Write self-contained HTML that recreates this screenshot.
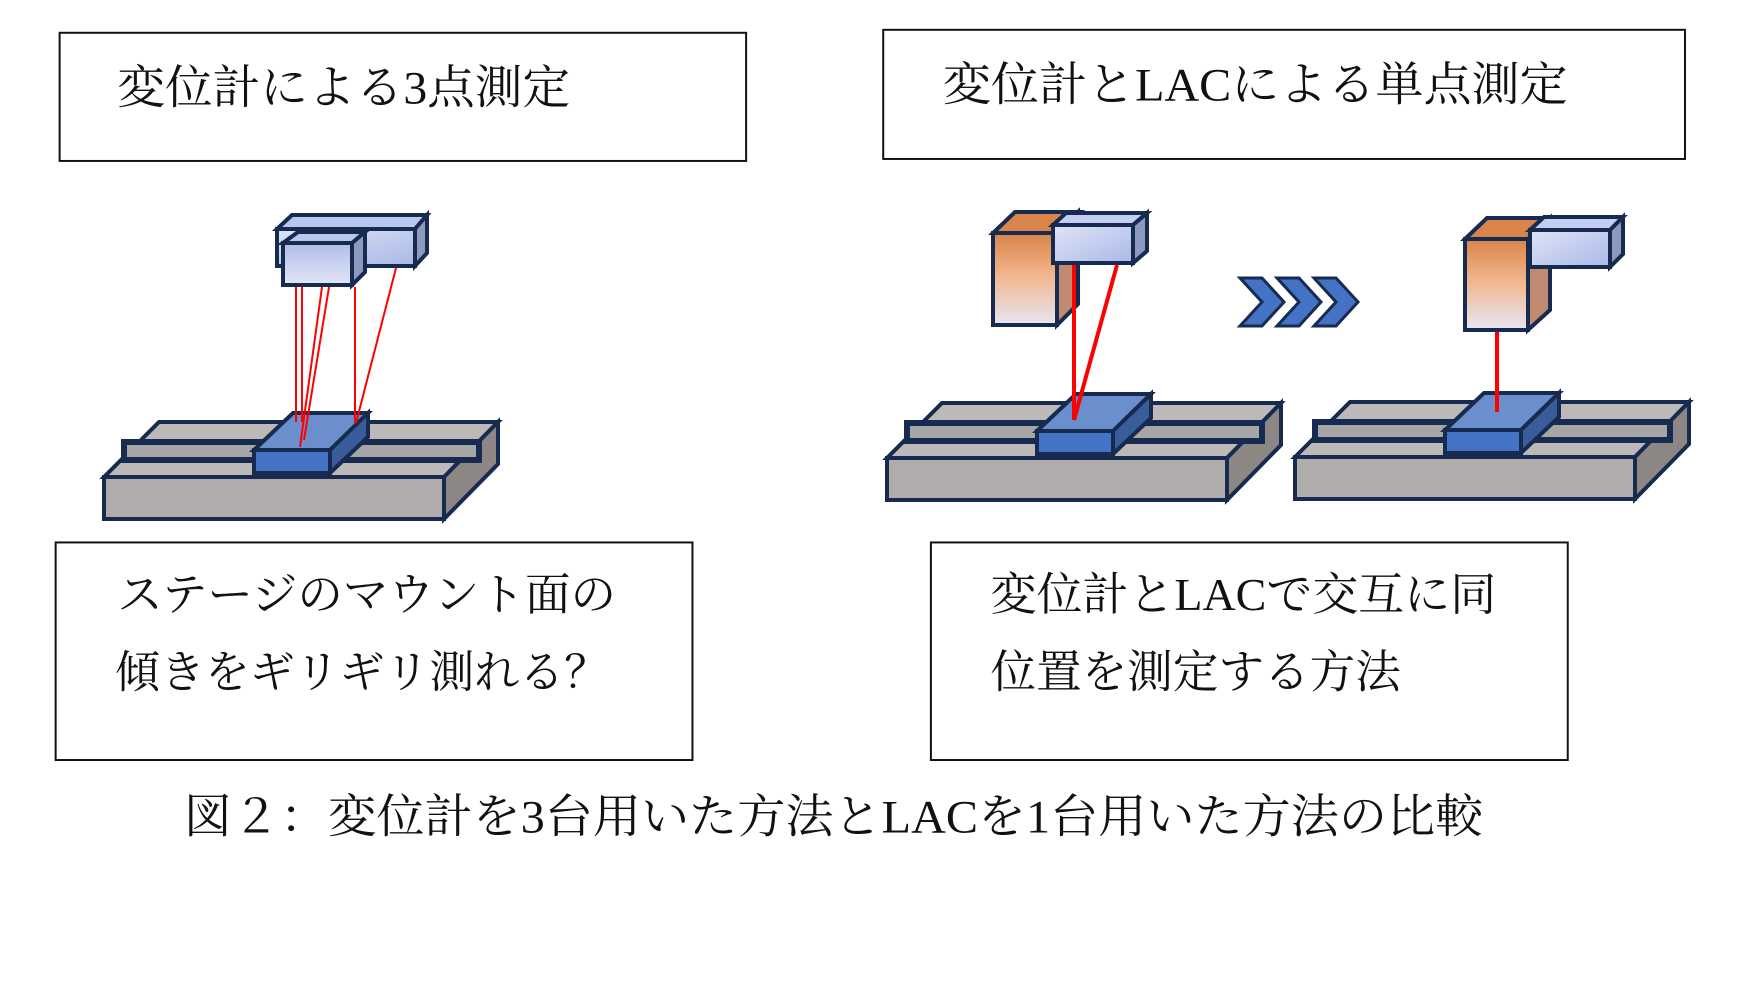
<!DOCTYPE html>
<html><head><meta charset="utf-8">
<style>
html,body{margin:0;padding:0;background:#fff;}
svg{display:block;}
text{font-family:"Liberation Serif","Noto Serif CJK SC",serif;fill:#111;}
</style></head>
<body>
<svg width="1753" height="999" viewBox="0 0 1753 999" xmlns="http://www.w3.org/2000/svg">
<defs>
<linearGradient id="sens" x1="0" y1="0" x2="1" y2="1">
<stop offset="0" stop-color="#dfe4f6"/><stop offset="1" stop-color="#a9b9e8"/></linearGradient>
<linearGradient id="sensV" x1="0" y1="0" x2="0" y2="1">
<stop offset="0" stop-color="#aebde9"/><stop offset="1" stop-color="#e2e6f6"/></linearGradient>
<linearGradient id="orng" x1="0" y1="0" x2="0" y2="1">
<stop offset="0" stop-color="#d8844a"/><stop offset="0.45" stop-color="#f2b48a"/><stop offset="1" stop-color="#e6e6f3"/></linearGradient>
<g id="stage" stroke="#172b50" stroke-width="4" stroke-linejoin="miter">
<polygon points="0,0 55,-55 394,-55 340,0" fill="#bdb9b8"/>
<polygon points="340,0 394,-55 394,-13 340,42" fill="#8c8785"/>
<rect x="0" y="0" width="340" height="42" fill="#afacab"/>
<rect x="20" y="-35" width="355" height="18" fill="#a6a6a6" stroke-width="6"/>
<polygon points="150,-27 189,-64 264,-64 226,-27" fill="#6a8fcc"/>
<polygon points="226,-27 264,-64 264,-40 226,-4" fill="#385d9a"/>
<rect x="150" y="-27" width="76" height="23" fill="#4472c4"/>
</g>
</defs>
<g transform="scale(0.9935)">
<g fill="none" stroke="#111" stroke-width="2">
<rect x="60" y="33" width="691" height="129"/>
<rect x="889" y="30" width="807" height="130"/>
<rect x="56" y="546" width="641" height="219"/>
<rect x="937" y="546" width="641" height="219"/>
</g>
<text x="118" y="104" font-size="47" textLength="456" lengthAdjust="spacingAndGlyphs">変位計による3点測定</text>
<text x="949" y="101" font-size="47" textLength="629" lengthAdjust="spacingAndGlyphs">変位計とLACによる単点測定</text>
<text x="118" y="614" font-size="45" textLength="502" lengthAdjust="spacingAndGlyphs">ステージのマウント面の</text>
<text x="116" y="692" font-size="45" textLength="497" lengthAdjust="spacingAndGlyphs">傾きをギリギリ測れる？</text>
<text x="997" y="614" font-size="46" textLength="509" lengthAdjust="spacingAndGlyphs">変位計とLACで交互に同</text>
<text x="997" y="692" font-size="46" textLength="413" lengthAdjust="spacingAndGlyphs">位置を測定する方法</text>
<text x="185" y="838" font-size="47" textLength="1308" lengthAdjust="spacingAndGlyphs">図２：変位計を3台用いた方法とLACを1台用いた方法の比較</text>
</g>

<!-- left stage -->
<use href="#stage" transform="translate(104,477)"/>
<g stroke="#172b50" stroke-width="4">
<polygon points="277,229 292,215 427,215 415,229" fill="#b9c6ee"/>
<polygon points="415,229 427,215 427,253 415,266" fill="#8d9ac0"/>
<rect x="277" y="229" width="138" height="37" fill="url(#sens)"/>
<polygon points="283,243 298,232 365,232 352,243" fill="#b9c6ee"/>
<polygon points="352,243 365,232 365,272 352,285" fill="#8d9ac0"/>
<rect x="283" y="243" width="69" height="42" fill="url(#sensV)"/>
</g>
<g stroke="#ff0000" stroke-width="2">
<line x1="296" y1="287" x2="296" y2="422"/>
<line x1="302" y1="287" x2="302" y2="422"/>
<line x1="322" y1="287" x2="300" y2="447"/>
<line x1="329" y1="287" x2="304" y2="440"/>
<line x1="355" y1="287" x2="355" y2="423"/>
<line x1="396" y1="268" x2="356" y2="423"/>
</g>

<!-- middle stage -->
<use href="#stage" transform="translate(887,458)"/>
<g stroke="#172b50" stroke-width="4">
<polygon points="993,233 1015,212 1080,212 1057,233" fill="#d8844a"/>
<polygon points="1057,233 1078,212 1078,304 1057,325" fill="#bf8a70"/>
<rect x="993" y="233" width="64" height="92" fill="url(#orng)"/>
<polygon points="1053,225 1066,213 1147,213 1133,225" fill="#c3cef2"/>
<polygon points="1133,225 1147,213 1147,251 1133,263" fill="#8d9ac0"/>
<rect x="1053" y="225" width="80" height="38" fill="url(#sens)"/>
</g>
<g stroke="#ff0000" stroke-width="4">
<line x1="1074" y1="265" x2="1074" y2="420"/>
<line x1="1117" y1="265" x2="1074" y2="420"/>
</g>

<!-- chevrons -->
<g fill="#4472c4" stroke="#172b50" stroke-width="3" stroke-linejoin="miter">
<polygon points="1240,278 1262,278 1284,302 1262,326 1240,326 1262,302"/>
<polygon points="1277,278 1299,278 1321,302 1299,326 1277,326 1299,302"/>
<polygon points="1314,278 1336,278 1358,302 1336,326 1314,326 1336,302"/>
</g>

<!-- right stage -->
<use href="#stage" transform="translate(1295,457)"/>
<g stroke="#172b50" stroke-width="4">
<polygon points="1465,239 1487,218 1550,218 1528,239" fill="#d8844a"/>
<polygon points="1528,239 1550,218 1550,310 1528,330" fill="#bf8a70"/>
<rect x="1465" y="239" width="63" height="91" fill="url(#orng)"/>
<polygon points="1530,230 1544,217 1623,217 1610,230" fill="#c3cef2"/>
<polygon points="1610,230 1623,217 1623,254 1610,267" fill="#8d9ac0"/>
<rect x="1530" y="230" width="80" height="37" fill="url(#sens)"/>
</g>
<line x1="1497" y1="332" x2="1497" y2="412" stroke="#ff0000" stroke-width="4"/>
</svg>
</body></html>
